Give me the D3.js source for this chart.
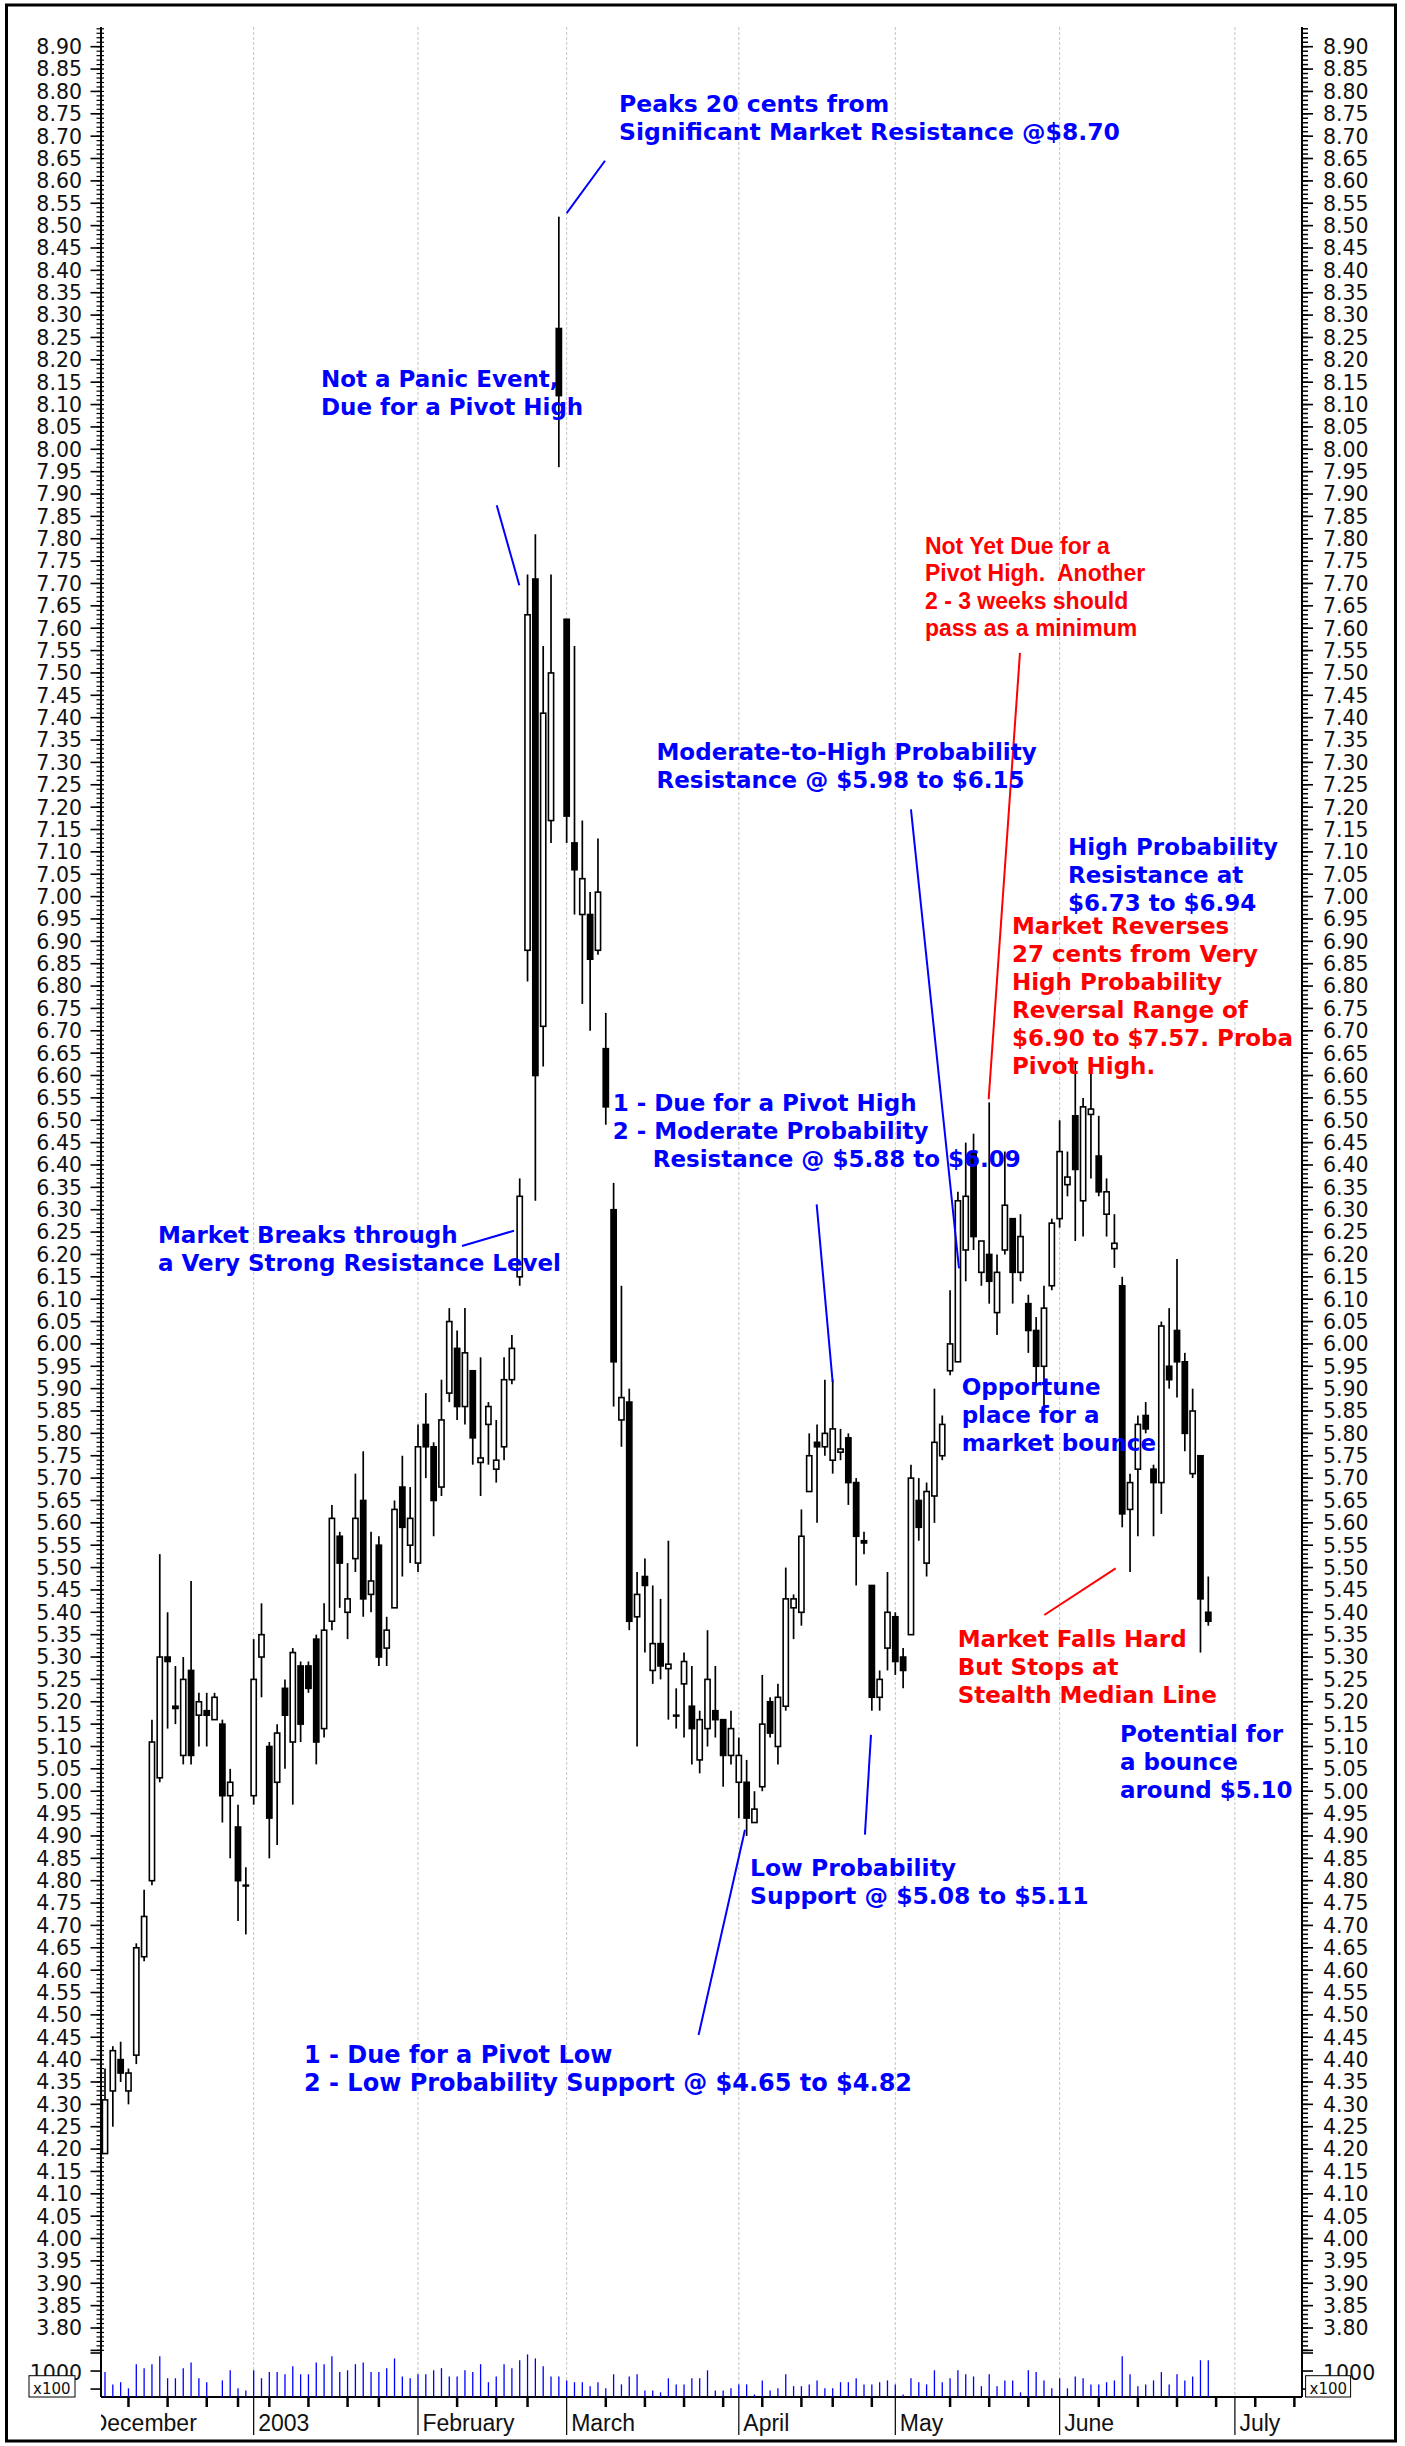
<!DOCTYPE html>
<html>
<head>
<meta charset="utf-8">
<script src="https://cdn.jsdelivr.net/npm/d3@7/dist/d3.min.js"></script>
<style>
  body { margin: 0; background: #fff; }
  svg { display: block; }
</style>
</head>
<body>
<div id="chart"></div>
<script>
// daily bars, one per trading day (Dec 2002 - Jun 2003)
const open = [4.19,4.33,4.40,4.33,4.41,4.63,4.80,5.03,5.30,5.19,5.08,5.27,5.17,5.18,5.16,5.15,4.99,4.92,4.79,4.99,
  5.30,5.10,5.02,5.23,5.11,5.28,5.28,5.34,5.14,5.38,5.57,5.40,5.52,5.65,5.44,5.55,5.32,5.41,5.68,5.55,5.51,
  5.82,5.77,5.68,5.89,5.99,5.86,5.94,5.735,5.82,5.72,5.77,5.92,6.15,6.88,7.71,6.71,7.17,8.27,7.62,
  7.12,6.96,6.96,6.88,6.66,6.30,5.83,5.87,5.39,5.48,5.27,5.33,5.274,5.17,5.24,5.19,5.07,5.14,5.18,5.16,5.08,5.02,
  5.02,4.93,5.01,5.20,5.10,5.19,5.41,5.40,5.67,5.78,5.77,5.74,5.758,5.79,5.69,5.56,5.46,5.21,5.32,5.39,
  5.30,5.35,5.65,5.51,5.66,5.75,5.94,5.96,6.21,6.43,6.16,6.20,6.07,6.21,6.28,6.16,6.09,6.03,5.95,6.13,6.28,
  6.356,6.51,6.32,6.513,6.42,6.29,6.213,6.13,5.63,5.72,5.84,5.72,5.69,5.95,6.03,5.96,5.71,5.75,5.40];
const high = [4.38,4.43,4.44,4.38,4.66,4.78,5.16,5.53,5.40,5.28,5.30,5.47,5.22,5.22,5.22,5.16,5.05,4.97,4.83,5.34,
  5.42,5.11,5.15,5.25,5.32,5.29,5.29,5.35,5.42,5.64,5.58,5.51,5.71,5.76,5.58,5.57,5.39,5.65,5.75,5.68,5.82,
  5.89,5.78,5.92,6.08,6.03,6.08,5.94,5.97,5.87,5.83,5.97,6.02,6.37,7.72,7.81,7.56,7.72,8.52,7.62,
  7.56,7.17,7.01,7.13,6.74,6.36,6.13,5.90,5.49,5.52,5.46,5.43,5.56,5.23,5.31,5.28,5.18,5.36,5.28,5.16,5.18,5.12,
  5.07,5.00,5.26,5.21,5.24,5.50,5.44,5.63,5.80,5.82,5.92,5.92,5.81,5.80,5.70,5.58,5.46,5.27,5.49,5.40,
  5.32,5.73,5.70,5.69,5.90,5.84,6.12,6.34,6.45,6.47,6.23,6.54,6.20,6.43,6.28,6.29,6.11,6.06,6.13,6.28,6.50,
  6.43,6.63,6.55,6.61,6.51,6.37,6.29,6.15,5.71,5.84,5.87,5.73,6.05,6.08,6.19,5.98,5.90,5.75,5.48];
const low = [4.19,4.25,4.35,4.30,4.39,4.62,4.79,5.02,5.14,5.15,5.06,5.06,5.10,5.10,5.16,4.93,4.85,4.71,4.68,4.97,
  5.21,4.85,4.88,5.05,4.97,5.11,5.22,5.06,5.12,5.36,5.41,5.34,5.49,5.39,5.40,5.28,5.28,5.41,5.48,5.51,5.49,
  5.70,5.57,5.66,5.87,5.83,5.82,5.73,5.66,5.73,5.69,5.74,5.91,6.13,6.81,6.32,6.62,7.12,7.96,7.12,
  6.96,6.76,6.70,6.87,6.49,5.86,5.77,5.36,5.10,5.31,5.24,5.25,5.16,5.14,5.12,5.06,5.04,5.10,5.12,5.01,5.06,4.94,
  4.90,4.93,5.00,5.12,5.06,5.18,5.34,5.37,5.67,5.60,5.75,5.71,5.74,5.64,5.46,5.53,5.18,5.18,5.27,5.26,
  5.23,5.35,5.56,5.48,5.60,5.74,5.93,5.96,6.14,6.21,6.13,6.09,6.02,6.20,6.09,6.14,5.98,5.91,5.86,6.12,6.26,
  6.33,6.23,6.24,6.37,6.33,6.24,6.17,5.59,5.49,5.57,5.80,5.57,5.62,5.90,5.88,5.76,5.70,5.31,5.37];
const close = [4.31,4.42,4.37,4.37,4.65,4.72,5.11,5.30,5.29,5.185,5.25,5.08,5.20,5.17,5.21,4.99,5.02,4.80,4.79,5.25,
  5.35,4.94,5.13,5.17,5.31,5.15,5.23,5.11,5.36,5.61,5.51,5.43,5.61,5.43,5.47,5.30,5.36,5.63,5.59,5.61,5.77,
  5.77,5.65,5.83,6.05,5.86,5.98,5.79,5.745,5.86,5.74,5.92,5.99,6.33,7.63,6.60,7.41,7.50,8.12,7.18,
  7.06,7.04,6.86,7.01,6.53,5.96,5.88,5.38,5.44,5.46,5.33,5.28,5.284,5.168,5.29,5.14,5.16,5.25,5.16,5.08,5.14,5.08,
  4.94,4.96,5.15,5.13,5.21,5.43,5.43,5.57,5.75,5.77,5.80,5.81,5.765,5.69,5.57,5.555,5.21,5.25,5.40,5.29,
  5.27,5.70,5.59,5.67,5.78,5.82,6.00,6.32,6.33,6.24,6.23,6.14,6.16,6.31,6.16,6.24,6.03,5.95,6.08,6.27,6.43,
  6.373,6.39,6.53,6.525,6.34,6.34,6.225,5.62,5.69,5.82,5.81,5.69,6.04,5.92,5.96,5.80,5.85,5.43,5.38];
// volume in hundreds of shares
const volume = [970,630,690,520,1190,1080,1190,1410,800,800,1080,1240,800,690,280,740,1020,520,460,1020,
  800,970,970,910,1130,910,910,1240,1190,1410,970,1020,1190,1240,970,970,1080,1350,850,800,910,
  910,1020,1080,850,850,1020,970,1190,690,850,1190,1080,1300,1460,1350,1130,850,850,740,
  690,690,580,690,520,910,630,850,910,460,460,410,800,630,630,800,800,1020,460,460,520,630,
  630,350,740,460,520,910,580,580,630,740,520,520,690,690,800,630,630,690,740,630,
  350,800,690,630,1020,690,800,1020,910,850,580,910,580,740,740,410,1020,970,740,520,800,
  520,850,800,630,630,690,740,1410,910,580,630,740,970,630,910,740,850,1300,1300];

// calendar: index of the last trading day of each month, and week starts
const monthLabels = ['December', '2003', 'February', 'March', 'April', 'May', 'June', 'July'];
const monthEnds = [-2.4, 19, 40, 59, 81, 101, 122, 144.4];
const weekTicks = [3, 8, 13, 17, 21, 26, 31, 35, 45, 50, 54, 64, 69, 74, 79, 84, 89, 93, 98,
  108, 113, 118, 127, 132, 137, 142, 147, 152];

// annotations, anchored at (bar index, price) of their first baseline
const blue = '#0000ff';
const red = '#ff0000';
const notes = [
  { lines: ['Peaks 20 cents from', 'Significant Market Resistance @$8.70'], at: [65.69, 8.754], color: blue, size: 23.5 },
  { lines: ['Not a Panic Event,', 'Due for a Pivot High'], at: [27.6, 8.139], color: blue },
  { lines: ['Market Breaks through', 'a Very Strong Resistance Level'], at: [6.77, 6.225], color: blue },
  { lines: ['Moderate-to-High Probability', 'Resistance @ $5.98 to $6.15'], at: [70.48, 7.305], color: blue },
  { lines: ['High Probability', 'Resistance at', '$6.73 to $6.94'], at: [123.07, 7.092], color: blue },
  { lines: ['Not Yet Due for a', 'Pivot High.  Another', '2 - 3 weeks should', 'pass as a minimum'], at: [104.79, 7.766], color: red, font: 'Liberation Sans, Arial, sans-serif', lead: 27.5 },
  { lines: ['Market Reverses', '27 cents from Very', 'High Probability', 'Reversal Range of', '$6.90 to $7.57. Proba', 'Pivot High.'], at: [115.91, 6.916], color: red },
  { lines: ['1 - Due for a Pivot High', '2 - Moderate Probability', 'Resistance @ $5.88 to $6.09'], indent: [0, 0, 40], at: [64.88, 6.521], color: blue },
  { lines: ['Opportune', 'place for a', 'market bounce'], at: [109.48, 5.886], color: blue },
  { lines: ['Market Falls Hard', 'But Stops at', 'Stealth Median Line'], at: [108.97, 5.323], color: red },
  { lines: ['Potential for', 'a bounce', 'around $5.10'], at: [129.71, 5.110], color: blue },
  { lines: ['Low Probability', 'Support @ $5.08 to $5.11'], at: [82.43, 4.811], color: blue, size: 23.5 },
  { lines: ['1 - Due for a Pivot Low', '2 - Low Probability Support @ $4.65 to $4.82'], at: [25.43, 4.392], color: blue, size: 24 }
];
// pointer lines: [index, price] pairs
const pointers = [
  { from: [63.9, 8.645], to: [59.0, 8.528], color: blue },
  { from: [50.06, 7.875], to: [52.95, 7.696], color: blue },
  { from: [45.62, 6.219], to: [52.27, 6.253], color: blue },
  { from: [103.0, 7.195], to: [109.14, 6.169], color: blue },
  { from: [90.95, 6.312], to: [92.99, 5.915], color: blue },
  { from: [116.93, 7.545], to: [112.93, 6.547], color: red },
  { from: [120.04, 5.394], to: [129.16, 5.498], color: red },
  { from: [97.89, 5.126], to: [97.12, 4.903], color: blue },
  { from: [75.86, 4.455], to: [81.79, 4.914], color: blue }
];

const W = 1405, H = 2446;
const plotL = 101, plotR = 1302, plotT = 27, plotB = 2397;

const svg = d3.select('#chart').append('svg')
  .attr('width', W).attr('height', H)
  .style('font-family', 'DejaVu Sans, Verdana, sans-serif');

// outer frame
svg.append('rect')
  .attr('x', 6.5).attr('y', 5).attr('width', 1389).attr('height', 2436)
  .attr('fill', 'none').attr('stroke', '#000').attr('stroke-width', 3);

const defs = svg.append('defs');
defs.append('clipPath').attr('id', 'plot-clip')
  .append('rect').attr('x', plotL).attr('y', plotT)
  .attr('width', plotR - plotL).attr('height', plotB - plotT);
defs.append('clipPath').attr('id', 'label-clip')
  .append('rect').attr('x', plotL).attr('y', plotB).attr('width', plotR - plotL).attr('height', 45);

// scales
const xScale = d3.scaleLinear().domain([0, 141]).range([105, 1208.3]);
const yScale = d3.scaleLinear().domain([3.80, 8.90]).range([2328, 46.7]);
const vScale = d3.scaleLinear().domain([280, 1500]).range([plotB, 2353]);

const bars = d3.range(open.length).map(i => ({
  i, o: open[i], h: high[i], l: low[i], c: close[i], v: volume[i]
}));

// month gridlines
const grid = svg.append('g').attr('clip-path', 'url(#plot-clip)');
grid.selectAll('line').data(monthEnds).join('line')
  .attr('x1', d => xScale(d)).attr('x2', d => xScale(d))
  .attr('y1', plotT).attr('y2', plotB)
  .attr('stroke', '#c4c4c4').attr('stroke-width', 1).attr('stroke-dasharray', '3,2');

// price axes: ticks every 0.01, labels every 0.05
const minor = d3.range(375, 895).map(d => d / 100);
const major = d3.range(75, 179).map(d => d * 0.05);
const axes = svg.append('g');

axes.append('line').attr('x1', plotL).attr('x2', plotL).attr('y1', plotT).attr('y2', plotB)
  .attr('stroke', '#000').attr('stroke-width', 2);
axes.append('line').attr('x1', plotR).attr('x2', plotR).attr('y1', plotT).attr('y2', plotB)
  .attr('stroke', '#000').attr('stroke-width', 2);

axes.selectAll('line.lminor').data(minor).join('line').attr('class', 'lminor')
  .attr('x1', 96.5).attr('x2', 104).attr('y1', d => yScale(d)).attr('y2', d => yScale(d))
  .attr('stroke', '#000').attr('stroke-width', 1.2);
axes.selectAll('line.rminor').data(minor).join('line').attr('class', 'rminor')
  .attr('x1', plotR).attr('x2', 1308).attr('y1', d => yScale(d)).attr('y2', d => yScale(d))
  .attr('stroke', '#000').attr('stroke-width', 1.5);
axes.selectAll('line.lmajor').data(major).join('line').attr('class', 'lmajor')
  .attr('x1', 90.5).attr('x2', plotL).attr('y1', d => yScale(d)).attr('y2', d => yScale(d))
  .attr('stroke', '#000').attr('stroke-width', 1.6);
axes.selectAll('line.rmajor').data(major).join('line').attr('class', 'rmajor')
  .attr('x1', plotR).attr('x2', 1313).attr('y1', d => yScale(d)).attr('y2', d => yScale(d))
  .attr('stroke', '#000').attr('stroke-width', 1.6);

const labelVals = major.filter(d => d >= 3.799);
axes.selectAll('text.lab-l').data(labelVals).join('text').attr('class', 'lab-l')
  .attr('x', 82).attr('y', d => yScale(d)).attr('dy', '0.36em')
  .attr('text-anchor', 'end').attr('font-size', 20.5).attr('fill', '#111')
  .text(d => d.toFixed(2));
axes.selectAll('text.lab-r').data(labelVals).join('text').attr('class', 'lab-r')
  .attr('x', 1323).attr('y', d => yScale(d)).attr('dy', '0.36em')
  .attr('font-size', 20.5).attr('fill', '#111')
  .text(d => d.toFixed(2));

// volume axis ticks and labels
const volTicks = [500, 1000, 1500];
axes.selectAll('line.vl').data(volTicks).join('line').attr('class', 'vl')
  .attr('x1', 90.5).attr('x2', plotL).attr('y1', d => vScale(d)).attr('y2', d => vScale(d))
  .attr('stroke', '#000').attr('stroke-width', 1.6);
axes.selectAll('line.vr').data(volTicks).join('line').attr('class', 'vr')
  .attr('x1', plotR).attr('x2', 1313).attr('y1', d => vScale(d)).attr('y2', d => vScale(d))
  .attr('stroke', '#000').attr('stroke-width', 1.6);
[[82, 'end'], [1323, 'start']].forEach(([x, anchor]) => {
  axes.append('text').attr('x', x).attr('y', vScale(1000)).attr('dy', '0.42em')
    .attr('text-anchor', anchor).attr('font-size', 20.5).attr('fill', '#111').text('1000');
});
[[29, 46], [1305.6, 45]].forEach(([x, w]) => {
  axes.append('rect').attr('x', x).attr('y', 2375.7).attr('width', w).attr('height', plotB - 2375.7)
    .attr('fill', '#fff').attr('stroke', '#000').attr('stroke-width', 1);
  axes.append('text').attr('x', x + 4).attr('y', 2394).attr('font-size', 15).attr('fill', '#111').text('x100');
});

// volume bars
const plot = svg.append('g').attr('clip-path', 'url(#plot-clip)');
plot.selectAll('line.vol').data(bars).join('line').attr('class', 'vol')
  .attr('x1', d => xScale(d.i)).attr('x2', d => xScale(d.i))
  .attr('y1', plotB).attr('y2', d => Math.min(plotB, vScale(d.v)))
  .attr('stroke', '#0000ff').attr('stroke-width', 1.3);

// candlesticks
plot.selectAll('line.wick').data(bars).join('line').attr('class', 'wick')
  .attr('x1', d => xScale(d.i)).attr('x2', d => xScale(d.i))
  .attr('y1', d => yScale(d.h)).attr('y2', d => yScale(d.l))
  .attr('stroke', '#000').attr('stroke-width', 1.7);
plot.selectAll('rect.body').data(bars).join('rect').attr('class', 'body')
  .attr('x', d => xScale(d.i) - 2.6).attr('width', 5.2)
  .attr('y', d => yScale(Math.max(d.o, d.c)))
  .attr('height', d => Math.max(0.8, Math.abs(yScale(d.o) - yScale(d.c))))
  .attr('fill', d => d.c >= d.o ? '#fff' : '#000')
  .attr('stroke', '#000').attr('stroke-width', 1.6);

// x axis
axes.append('line').attr('x1', plotL).attr('x2', plotR).attr('y1', plotB).attr('y2', plotB)
  .attr('stroke', '#000').attr('stroke-width', 2);
axes.selectAll('line.week').data(weekTicks).join('line').attr('class', 'week')
  .attr('x1', d => xScale(d)).attr('x2', d => xScale(d))
  .attr('y1', plotB).attr('y2', plotB + 10)
  .attr('stroke', '#000').attr('stroke-width', 2.5);
const monthAxis = svg.append('g').attr('clip-path', 'url(#label-clip)');
monthAxis.selectAll('line').data(monthEnds).join('line')
  .attr('x1', d => xScale(d)).attr('x2', d => xScale(d))
  .attr('y1', plotB).attr('y2', plotB + 38)
  .attr('stroke', '#000').attr('stroke-width', 1.2);
monthAxis.selectAll('text').data(monthEnds).join('text')
  .attr('x', d => xScale(d) + 4.5).attr('y', 2431)
  .attr('font-family', 'Liberation Sans, Arial, sans-serif')
  .attr('font-size', 23).attr('fill', '#111')
  .text((d, k) => monthLabels[k]);

// annotations
const notesG = svg.append('g').attr('clip-path', 'url(#plot-clip)');
notesG.selectAll('line').data(pointers).join('line')
  .attr('x1', d => xScale(d.from[0])).attr('y1', d => yScale(d.from[1]))
  .attr('x2', d => xScale(d.to[0])).attr('y2', d => yScale(d.to[1]))
  .attr('stroke', d => d.color).attr('stroke-width', 2);

notes.forEach(n => {
  const t = notesG.append('text')
    .attr('font-size', n.size || 23).attr('font-weight', 'bold')
    .attr('fill', n.color).style('white-space', 'pre');
  if (n.font) t.attr('font-family', n.font);
  n.lines.forEach((line, k) => {
    t.append('tspan')
      .attr('x', xScale(n.at[0]) + (n.indent ? n.indent[k] : 0))
      .attr('y', yScale(n.at[1]) + k * (n.lead || 28))
      .text(line);
  });
});
</script>
</body>
</html>
